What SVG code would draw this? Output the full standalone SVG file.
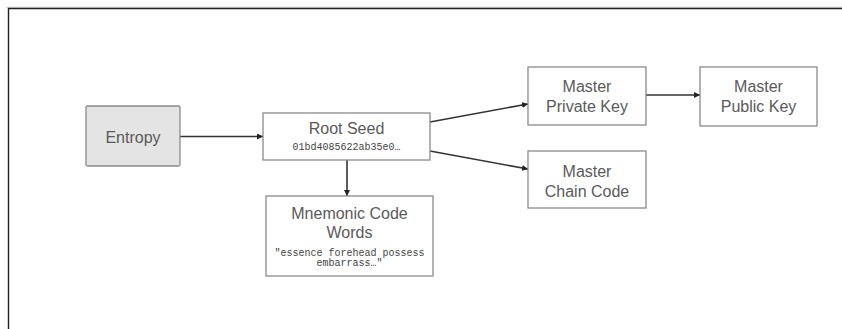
<svg xmlns="http://www.w3.org/2000/svg" width="842" height="329" viewBox="0 0 842 329">
<style>
.box{fill:#fff;stroke:#8a8a8a;stroke-width:1.3}
.t{font-family:"Liberation Sans",Arial,sans-serif;font-size:16px;fill:#5a5a5a;text-anchor:middle}
.m{font-family:"Liberation Mono","DejaVu Sans Mono",monospace;font-size:10px;fill:#444;text-anchor:middle}
.c{stroke:#333;stroke-width:1.6;fill:none;marker-end:url(#ah)}
</style>
<defs>
<marker id="ah" viewBox="0 0 10 10" refX="10" refY="5" markerWidth="6" markerHeight="6" markerUnits="userSpaceOnUse" orient="auto">
<path d="M0,0 L10,5 L0,10 z" fill="#222"/>
</marker>
</defs>
<rect width="842" height="329" fill="#fff"/>
<g id="frame">
<line x1="6" y1="7.2" x2="842" y2="7.2" stroke="#d0d0d0" stroke-width="1"/>
<path d="M8.5,329 V8.5 H842" fill="none" stroke="#222" stroke-width="1.4"/>
</g>
<g id="connectors">
<line class="c" x1="180" y1="136.5" x2="263" y2="136.5"/>
<line class="c" x1="347" y1="160" x2="347" y2="196"/>
<line class="c" x1="430" y1="122" x2="528" y2="104"/>
<line class="c" x1="430" y1="151" x2="528" y2="169"/>
<line class="c" x1="646" y1="95" x2="700" y2="95"/>
</g>
<g id="entropy">
<rect x="86" y="106" width="94" height="60" rx="1.5" fill="#e4e4e4" stroke="#8a8a8a" stroke-width="1.3"/>
<text class="t" x="133" y="143">Entropy</text>
</g>
<g id="rootseed">
<rect class="box" x="263" y="113" width="167" height="47"/>
<text class="t" x="346.5" y="134">Root Seed</text>
<text class="m" x="346.5" y="150">01bd4085622ab35e0…</text>
</g>
<g id="mnemonic">
<rect class="box" x="266" y="196" width="167" height="80"/>
<text class="t" x="349.5" y="219">Mnemonic Code</text>
<text class="t" x="349.5" y="238">Words</text>
<text class="m" x="349.5" y="256">"essence forehead possess</text>
<text class="m" x="349.5" y="266">embarrass…"</text>
</g>
<g id="privkey">
<rect class="box" x="528" y="67" width="118" height="58"/>
<text class="t" x="587" y="92">Master</text>
<text class="t" x="587" y="112">Private Key</text>
</g>
<g id="pubkey">
<rect class="box" x="700" y="67" width="117" height="59"/>
<text class="t" x="758.5" y="92">Master</text>
<text class="t" x="758.5" y="112">Public Key</text>
</g>
<g id="chaincode">
<rect class="box" x="528" y="151" width="118" height="57"/>
<text class="t" x="587" y="177">Master</text>
<text class="t" x="587" y="197">Chain Code</text>
</g>
</svg>
